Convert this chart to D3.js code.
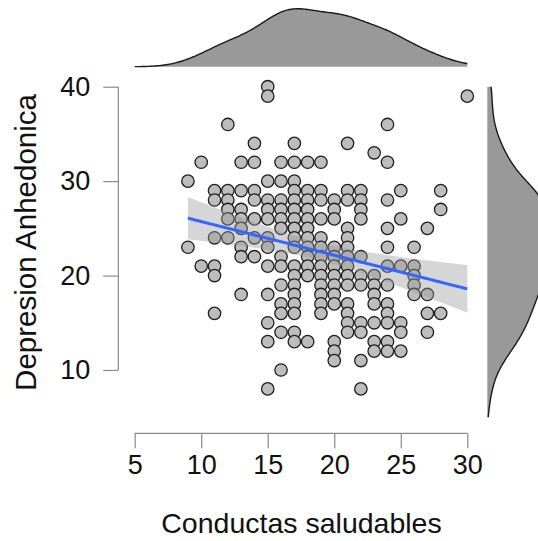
<!DOCTYPE html>
<html>
<head>
<meta charset="utf-8">
<script src="https://cdn.jsdelivr.net/npm/d3@7"></script>
<style>
  html, body { margin: 0; padding: 0; background: #fff; }
  svg { display: block; font-family: "Liberation Sans", Arial, sans-serif; }
</style>
</head>
<body>
<svg id="chart" width="538" height="541"></svg>
<script>
// Conductas saludables scores, one entry per column of points
const conductasCols = [9, 10, 11, 12, 13, 14, 15, 16, 17, 18, 19, 20, 21, 22, 23, 24, 25, 26, 27, 28, 30];
// Depresion Anhedonica scores observed at each Conductas value
const anhedoniaCols = [
  [30, 23],
  [32, 21],
  [29, 28, 24, 21, 20, 16],
  [36, 29, 28, 27, 26, 24],
  [32, 29, 27, 26, 25, 23, 22, 18],
  [34, 32, 29, 28, 26, 24, 22],
  [40, 39, 30, 28, 27, 26, 24, 23, 21, 18, 15, 13, 8],
  [32, 30, 28, 27, 26, 25, 22, 21, 19, 17, 16, 14, 10],
  [34, 32, 30, 29, 28, 27, 26, 25, 24, 23, 21, 20, 19, 18, 17, 16, 14, 13],
  [32, 29, 28, 27, 26, 25, 24, 23, 22, 21, 20, 13],
  [32, 29, 28, 26, 24, 23, 22, 21, 20, 19, 18, 17, 16],
  [28, 27, 26, 23, 22, 21, 20, 19, 18, 17, 13, 12, 11],
  [34, 29, 28, 25, 24, 23, 22, 21, 20, 19, 17, 16, 15, 14],
  [29, 28, 27, 26, 22, 20, 19, 15, 14, 11, 8],
  [33, 20, 19, 18, 17, 15, 13, 12],
  [36, 32, 28, 25, 23, 21, 19, 17, 16, 15, 13, 12],
  [29, 26, 21, 15, 14, 12],
  [23, 21, 20, 19, 18],
  [25, 18, 16, 14],
  [29, 27, 16],
  [39]
];
const xTicks = [5, 10, 15, 20, 25, 30];
const yTicks = [10, 20, 30, 40];
const xLabel = "Conductas saludables";
const yLabel = "Depresion Anhedonica";

// flatten columns into observation pairs
const data = [];
conductasCols.forEach((cx, i) => anhedoniaCols[i].forEach(v => data.push({ x: cx, y: v })));

const svg = d3.select("#chart");

const x = d3.scaleLinear().domain([5, 30]).range([134.7, 467.3]);
const y = d3.scaleLinear().domain([10, 40]).range([370, 86.7]);

// ---- axes (range-frame style, grey lines) ----
const axisColor = "#8a8a8a";
const xAxis = d3.axisBottom(x).tickValues(xTicks).tickSize(15).tickPadding(10).tickFormat(d3.format("d"));
const gx = svg.append("g").attr("transform", "translate(0,433.3)").call(xAxis);
gx.select(".domain").attr("stroke", axisColor).attr("stroke-width", 1.2)
  .attr("d", `M${x(5)},0H${x(30)}`);
gx.selectAll(".tick line").attr("stroke", axisColor).attr("stroke-width", 1.2);
gx.selectAll(".tick text").attr("fill", "#111").attr("font-size", 27)
  .attr("font-family", "Liberation Sans, Arial, sans-serif").attr("dy", "0.71em").attr("y", 22);

const yAxis = d3.axisLeft(y).tickValues(yTicks).tickSize(15).tickPadding(13).tickFormat(d3.format("d"));
const gy = svg.append("g").attr("transform", "translate(118.3,0)").call(yAxis);
gy.select(".domain").attr("stroke", axisColor).attr("stroke-width", 1.2)
  .attr("d", `M0,${y(10)}V${y(40)}`);
gy.selectAll(".tick line").attr("stroke", axisColor).attr("stroke-width", 1.2);
gy.selectAll(".tick text").attr("fill", "#111").attr("font-size", 27)
  .attr("font-family", "Liberation Sans, Arial, sans-serif");

svg.append("text")
  .attr("x", 301.5).attr("y", 533)
  .attr("text-anchor", "middle")
  .attr("font-size", 28.5).attr("fill", "#111")
  .text(xLabel);

svg.append("text")
  .attr("transform", "translate(35.5,242.5) rotate(-90)")
  .attr("text-anchor", "middle")
  .attr("font-size", 29.5).attr("fill", "#111")
  .text(yLabel);

// ---- scatter points ----
svg.append("g").selectAll("circle").data(data).join("circle")
  .attr("cx", d => x(d.x)).attr("cy", d => y(d.y)).attr("r", 6.2)
  .attr("fill", "#bdbdbd").attr("stroke", "#1e1e1e").attr("stroke-width", 1.3);

// ---- linear fit with 95% confidence band ----
const n = data.length;
const mx = d3.mean(data, d => d.x), my = d3.mean(data, d => d.y);
const sxx = d3.sum(data, d => (d.x - mx) ** 2);
const sxy = d3.sum(data, d => (d.x - mx) * (d.y - my));
const slope = sxy / sxx, intercept = my - slope * mx;
const s = Math.sqrt(d3.sum(data, d => (d.y - intercept - slope * d.x) ** 2) / (n - 2));
const tq = 1.973;
const [xmin, xmax] = d3.extent(data, d => d.x);
const fit = d3.range(0, 81).map(i => {
  const xv = xmin + (xmax - xmin) * i / 80;
  const yv = intercept + slope * xv;
  const se = s * Math.sqrt(1 / n + (xv - mx) ** 2 / sxx);
  return { x: xv, y: yv, lo: yv - tq * se, hi: yv + tq * se };
});

svg.append("path").datum(fit)
  .attr("d", d3.area().x(d => x(d.x)).y0(d => y(d.lo)).y1(d => y(d.hi)))
  .attr("fill", "#999999").attr("fill-opacity", 0.4);

svg.append("path").datum(fit)
  .attr("d", d3.line().x(d => x(d.x)).y(d => y(d.y)))
  .attr("fill", "none").attr("stroke", "#3366FF").attr("stroke-width", 3);

// ---- marginal densities (Gaussian KDE, Silverman bandwidth) ----
function bwNrd0(vals) {
  const sd = d3.deviation(vals);
  const q = d3.quantile(vals.slice().sort(d3.ascending), 0.75) - d3.quantile(vals.slice().sort(d3.ascending), 0.25);
  return 0.9 * Math.min(sd, q / 1.34) * Math.pow(vals.length, -0.2);
}
function kde(vals, lo, hi, m) {
  const h = bwNrd0(vals);
  return d3.range(0, m + 1).map(i => {
    const t = lo + (hi - lo) * i / m;
    const dens = d3.sum(vals, v => Math.exp(-0.5 * ((t - v) / h) ** 2)) / (vals.length * h * Math.sqrt(2 * Math.PI));
    return [t, dens];
  });
}

const xs = data.map(d => d.x), ys = data.map(d => d.y);
const topDens = kde(xs, 5, 30, 200);
const rightDens = kde(ys, 5, 40, 200);

const topBase = 66.7, topPeak = 58;
const hTop = d3.scaleLinear().domain([0, d3.max(topDens, d => d[1])]).range([topBase, topBase - topPeak]);
svg.append("path").datum(topDens)
  .attr("d", d3.area().x(d => x(d[0])).y0(topBase).y1(d => hTop(d[1])).curve(d3.curveBasis))
  .attr("fill", "#999999");
svg.append("path").datum(topDens)
  .attr("d", d3.line().x(d => x(d[0])).y(d => hTop(d[1])).curve(d3.curveBasis))
  .attr("fill", "none").attr("stroke", "#1a1a1a").attr("stroke-width", 1.4);

const yRight = d3.scaleLinear().domain([10, 40]).range([370, 86.7]);
const rightBase = 487.3, rightPeak = 58;
const wRight = d3.scaleLinear().domain([0, d3.max(rightDens, d => d[1])]).range([rightBase, rightBase + rightPeak]);
svg.append("path").datum(rightDens)
  .attr("d", d3.area().y(d => yRight(d[0])).x0(rightBase).x1(d => wRight(d[1])).curve(d3.curveBasis))
  .attr("fill", "#999999");
svg.append("path").datum(rightDens)
  .attr("d", d3.line().y(d => yRight(d[0])).x(d => wRight(d[1])).curve(d3.curveBasis))
  .attr("fill", "none").attr("stroke", "#1a1a1a").attr("stroke-width", 1.4);
</script>
</body>
</html>
